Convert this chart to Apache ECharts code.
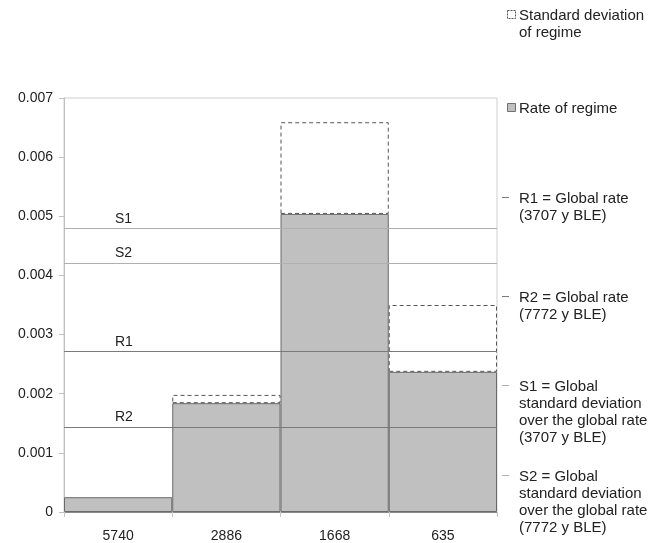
<!DOCTYPE html>
<html>
<head>
<meta charset="utf-8">
<script src="https://cdn.jsdelivr.net/npm/echarts@6/dist/echarts.min.js"></script>
<style>
  html, body { margin: 0; background: #fff; }
  #chart { width: 662px; height: 543px; }
</style>
</head>
<body>
<div id="chart"></div>
<script>
  // data
  const categories = ['5740', '2886', '1668', '635']
  const rateValues = [0.00025, 0.00184, 0.00504, 0.00237]
  const sdValues = ['-', 0.00014, 0.00155, 0.00113]
  const lineNames = ['S1', 'S2', 'R1', 'R2']
  const lineValues = [0.00479, 0.0042, 0.00271, 0.00143]
  const legendTexts = [
    'Standard deviation\nof regime',
    'Rate of regime',
    'R1 = Global rate\n(3707 y BLE)',
    'R2 = Global rate\n(7772 y BLE)',
    'S1 = Global\nstandard deviation\nover the global rate\n(3707 y BLE)',
    'S2 = Global\nstandard deviation\nover the global rate\n(7772 y BLE)'
  ]

  const FONT = 'Liberation Sans, Arial, sans-serif'
  const sColor = '#b0b0b0'
  const rColor = '#7a7a7a'
  const lineColor = name => (name.charAt(0) === 'S' ? sColor : rColor)

  // legend drawn as graphic so multi-line text lines up with the icon
  const legendTops = [7, 100, 190, 289, 378, 468]
  const legendIcons = ['sd', 'rate', 'R', 'R', 'S', 'S']
  const legendGraphic = []
  legendTexts.forEach((txt, i) => {
    const top = legendTops[i]
    const kind = legendIcons[i]
    if (kind === 'sd') {
      legendGraphic.push({
        type: 'rect', left: 507, top: top + 3, shape: { width: 8, height: 8 },
        style: { fill: '#fff', stroke: '#555', lineWidth: 1, lineDash: [2, 1] }
      })
    } else if (kind === 'rate') {
      legendGraphic.push({
        type: 'rect', left: 507, top: top + 3, shape: { width: 8, height: 8 },
        style: { fill: '#c0c0c0', stroke: '#707070', lineWidth: 1 }
      })
    } else {
      legendGraphic.push({
        type: 'rect', left: 502, top: top + 7, shape: { width: 7, height: 1 },
        style: { fill: kind === 'S' ? sColor : rColor }
      })
    }
    legendGraphic.push({
      type: 'text', left: 519, top: top,
      style: { text: txt, fill: '#222', font: '15px ' + FONT, lineHeight: 17 }
    })
  })

  const chart = echarts.init(document.getElementById('chart'))
  const options = {
    animation: false,
    backgroundColor: '#fff',
    grid: {
      left: 64,
      right: 165,
      top: 98,
      bottom: 31,
      show: true,
      borderColor: '#cfcfcf',
      borderWidth: 1
    },
    xAxis: {
      type: 'category',
      data: categories,
      axisLine: { lineStyle: { color: '#8a8a8a' } },
      axisTick: { show: true, length: 5, lineStyle: { color: '#c8c8c8' } },
      axisLabel: { color: '#222', fontSize: 14, fontFamily: FONT, margin: 17 }
    },
    yAxis: {
      type: 'value',
      min: 0,
      max: 0.007,
      interval: 0.001,
      splitLine: { show: false },
      axisLine: { show: true, lineStyle: { color: '#c0c0c0' } },
      axisTick: { show: true, length: 5, lineStyle: { color: '#c0c0c0' } },
      axisLabel: {
        color: '#222', fontSize: 14, fontFamily: FONT, margin: 11,
        formatter: v => (v === 0 ? '0' : v.toFixed(3))
      }
    },
    series: [
      {
        name: 'Rate of regime',
        type: 'bar',
        stack: 'regime',
        barCategoryGap: 0,
        data: rateValues,
        itemStyle: { color: '#c0c0c0', borderColor: '#6a6a6a', borderWidth: 1 }
      },
      {
        name: 'Standard deviation of regime',
        type: 'bar',
        stack: 'regime',
        barCategoryGap: 0,
        data: sdValues,
        itemStyle: {
          color: '#fff',
          borderColor: '#555',
          borderWidth: 1,
          borderType: [4, 3]
        }
      },
      {
        name: 'Global lines',
        type: 'line',
        data: [],
        z: 5,
        markLine: {
          silent: true,
          precision: 6,
          symbol: ['none', 'none'],
          data: lineNames.map((n, i) => ({
            name: n,
            yAxis: lineValues[i],
            lineStyle: { color: lineColor(n), width: 1, type: 'solid' }
          })),
          label: {
            show: true,
            position: 'insideStartTop',
            distance: [51, 3],
            formatter: '{b}',
            color: '#222',
            fontSize: 14,
            fontFamily: FONT
          }
        }
      }
    ],
    graphic: legendGraphic
  }
  chart.setOption(options, true)
</script>
</body>
</html>
